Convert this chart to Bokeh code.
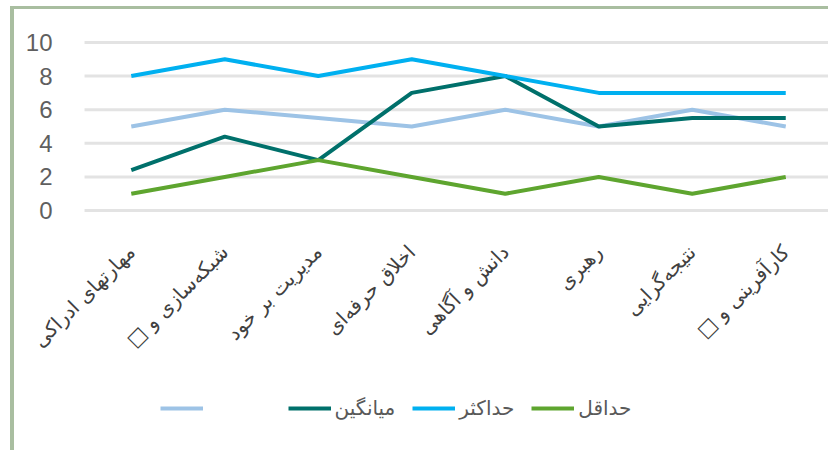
import math
from bokeh.plotting import figure
from bokeh.models import Range1d, Legend, LegendItem, FixedTicker
from bokeh.embed import file_html
from bokeh.resources import INLINE

categories = ["مهارتهای ادراکی", "شبکه‌سازی و □\u200f", "مدیریت بر خود", "اخلاق حرفه‌ای",
              "دانش و آگاهی", "رهبری", "نتیجه‌گرایی", "کارآفرینی و □\u200f"]
series_other = [5, 6, 5.5, 5, 6, 5, 6, 5]
series_mean = [2.4, 4.4, 3, 7, 8, 5, 5.5, 5.5]
series_max = [8, 9, 8, 9, 8, 7, 7, 7]
series_min = [1, 2, 3, 2, 1, 2, 1, 2]
y_ticks = [0, 2, 4, 6, 8, 10]

labels = ["\u00a0" * 10, "میانگین", "حداکثر", "حداقل"]
colors = ["#9dc3e6", "#00706b", "#00b0f0", "#5ea52f"]

n = len(categories)
xs = [i + 0.5 for i in range(n)]

p = figure(width=818, height=444, x_range=Range1d(-0.749, n),
           y_range=Range1d(-14.45, 11.96), output_backend="svg", toolbar_location=None,
           min_border_left=0, min_border_top=0, min_border_right=0, min_border_bottom=0)
p.styles = {"border-left": "4px solid #a9bea0", "border-top": "3px solid #a9bea0",
            "margin-left": "10px", "margin-top": "6px"}
p.outline_line_color = None
p.background_fill_color = "white"
p.border_fill_color = "white"

# horizontal gridlines across the category span only
p.segment(x0=[0] * len(y_ticks), x1=[n] * len(y_ticks), y0=y_ticks, y1=y_ticks,
          line_color="#e3e3e3", line_width=3)

renderers = []
for ys, c in zip([series_other, series_mean, series_max, series_min], colors):
    r = p.line(xs, ys, line_color=c, line_width=4)
    renderers.append(r)

p.xgrid.grid_line_color = None
p.ygrid.grid_line_color = None

p.yaxis.fixed_location = 0
p.yaxis.ticker = FixedTicker(ticks=y_ticks)
p.yaxis.axis_line_color = None
p.yaxis.major_tick_line_color = None
p.yaxis.minor_tick_line_color = None
p.yaxis.major_label_standoff = 26
p.yaxis.major_label_text_font = "Liberation Sans"
p.yaxis.major_label_text_font_size = "24px"
p.yaxis.major_label_text_color = "#5f5f5f"

p.xaxis.fixed_location = 0
p.xaxis.ticker = FixedTicker(ticks=xs)
p.xaxis.major_label_overrides = {x: c for x, c in zip(xs, categories)}
p.xaxis.axis_line_color = None
p.xaxis.major_tick_line_color = None
p.xaxis.minor_tick_line_color = None
p.xaxis.major_label_orientation = math.pi / 4
p.xaxis.major_label_standoff = 32
p.xaxis.major_label_text_font = "DejaVu Sans"
p.xaxis.major_label_text_font_size = "20px"
p.xaxis.major_label_text_color = "#404040"

items = [LegendItem(label=l, renderers=[r]) for l, r in zip(labels, renderers)]
legend = Legend(items=items, orientation="horizontal", location=(146, 33),
                glyph_width=43, glyph_height=20, label_standoff=4, spacing=17,
                padding=0, margin=0, border_line_color=None, background_fill_alpha=0,
                label_text_font="DejaVu Sans", label_text_font_size="20px",
                label_text_color="#595959")
p.add_layout(legend, "center")

open("out.html", "w").write(file_html(p, INLINE))
